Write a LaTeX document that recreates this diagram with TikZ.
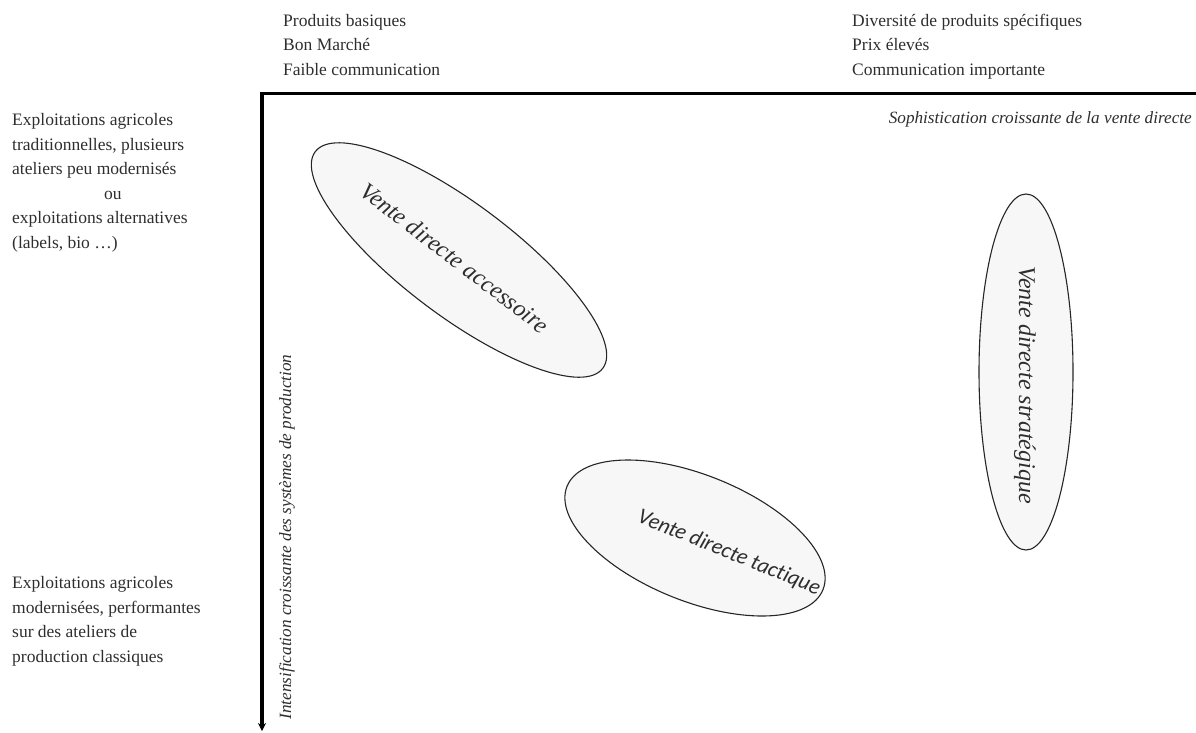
\documentclass[tikz,border=0pt]{standalone}
\usepackage{fontspec}
\setmainfont{Liberation Serif}
\newfontfamily\tactfont[Ligatures=NoCommon]{Carlito}
\usetikzlibrary{shapes.geometric,arrows.meta}
\definecolor{txt}{HTML}{2E2E2E}
\definecolor{efill}{HTML}{F7F7F7}
\tikzset{
  lbl/.style={text=txt,font=\fontsize{17.5}{24.5}\selectfont,align=left,inner sep=0pt},
  axislbl/.style={text=txt,font=\fontsize{17.2}{20}\selectfont\itshape,inner sep=0pt},
  oval/.style={ellipse,draw=black!85,line width=1.1pt,fill=efill,inner sep=0pt},
  ovaltext/.style={text=txt,font=\fontsize{24}{28}\selectfont\itshape,inner sep=0pt},
  axis/.style={line width=3.2pt,black}
}
\begin{document}
\begin{tikzpicture}[x=1pt,y=-1pt]
\useasboundingbox (0,0) rectangle (1196,732);
% axes
\coordinate (O) at (262,93.5);
\coordinate (R) at (1196,93.5);
\coordinate (B) at (262,731);
\draw[axis] ([xshift=-1.6pt]O) -- (R);
\draw[axis,-{Stealth[length=8pt,width=8pt]}] (O) -- (B);
% top labels (anchored on the baseline of the last line)
\node[lbl,anchor=base west] (tl) at (283,75) {Produits basiques\\Bon Marché\\Faible communication};
\node[lbl,anchor=base west] (tr) at (852,75) {Diversité de produits spécifiques\\Prix élevés\\Communication importante};
% left labels
\node[lbl,anchor=base west] (l1) at (12,248) {Exploitations agricoles\\traditionnelles, plusieurs\\ateliers peu modernisés\\\hspace*{92pt}ou\\exploitations alternatives\\(labels, bio \dots)};
\node[lbl,anchor=base west] (l2) at (12,662) {Exploitations agricoles\\modernisées, performantes\\sur des ateliers de\\production classiques};
% axis labels
\node[axislbl,anchor=base east] (soph) at (1192,123) {Sophistication croissante de la vente directe};
\node[axislbl,rotate=90,anchor=base] (intens) at (291,537) {Intensification croissante des systèmes de production};
% ellipses
\node[oval,minimum width=360pt,minimum height=112pt,rotate=-37] (acc) at (459,260) {};
\node[ovaltext,rotate=-37.5] (acct) at (455,258) {Vente directe accessoire};
\node[oval,minimum width=276pt,minimum height=126pt,rotate=-22] (tac) at (695,538) {};
\node[ovaltext,rotate=-22,font=\fontsize{22}{26}\selectfont\tactfont\itshape] (tact) at (729,553) {Vente directe tactique};
\node[oval,minimum width=356pt,minimum height=94pt,rotate=-90] (str) at (1026,372) {};
\node[ovaltext,rotate=-90] (strt) at (1025,385) {Vente directe stratégique};
\end{tikzpicture}
\end{document}
